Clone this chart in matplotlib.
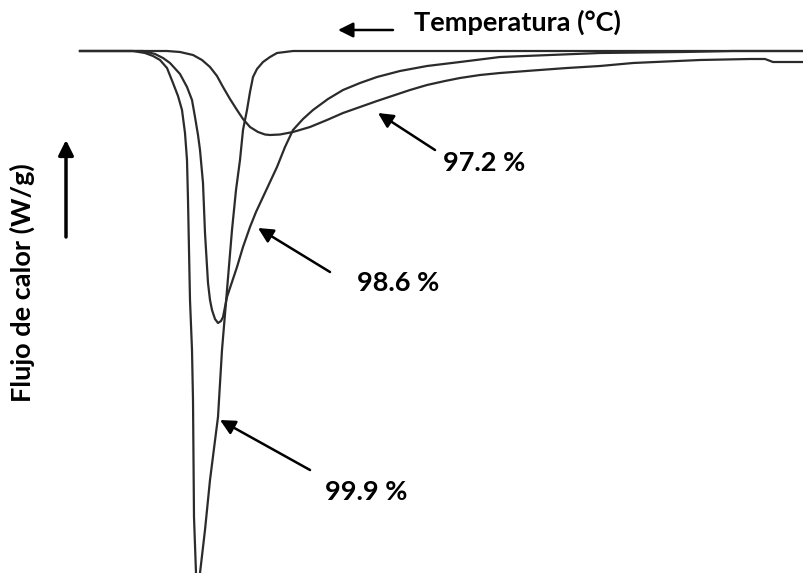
import numpy as np
import matplotlib.pyplot as plt

# DSC curves, x = temperature (arbitrary units), y = heat flow (arbitrary, baseline 0)
x_999 = [80, 133, 145, 153, 160, 167, 173, 178, 182, 185, 187, 188, 189, 190, 192, 193,
         194, 196, 197, 200, 205, 210, 218, 222, 227, 232, 236, 240, 243, 247, 250, 253,
         257, 263, 270, 277, 285, 293, 804]
y_999 = [0, 0, -2, -5, -9, -17, -32, -45, -59, -82, -109, -149, -199, -249, -299, -349,
         -466, -522, -541, -522, -479, -429, -366, -299, -239, -179, -139, -109, -79, -59,
         -41, -26, -18, -11, -6, -2, -1, 0, 0]

x_986 = [80, 143, 155, 163, 170, 180, 187, 192, 195, 198, 200, 203, 205, 208, 210, 212,
         215, 218, 221, 223, 227, 232, 237, 243, 250, 256, 263, 270, 277, 285, 293, 303,
         313, 328, 343, 360, 377, 400, 427, 460, 500, 550, 600, 683, 733, 804]
y_986 = [0, 0, -3, -7, -12, -23, -36, -49, -66, -84, -99, -132, -182, -232, -249, -259,
         -268, -272, -270, -266, -246, -231, -216, -196, -176, -161, -146, -131, -116, -96,
         -79, -68, -59, -48, -39, -32, -26, -20, -15, -11, -6, -4, -2, -1, 0, 0]

x_972 = [80, 167, 180, 193, 202, 210, 217, 223, 230, 237, 243, 250, 258, 265, 270, 280,
         293, 310, 327, 343, 360, 377, 395, 410, 427, 445, 460, 480, 500, 533, 567, 600,
         633, 700, 750, 765, 773, 804]
y_972 = [0, 0, -1, -4, -9, -16, -25, -36, -48, -59, -68, -76, -81, -83.5, -84, -83.5,
         -81, -76, -69, -62, -56, -50, -44, -39, -34, -30, -27, -24, -22, -19.5, -17, -15,
         -12, -9, -8, -8, -11, -11]

labels = ['97.2 %', '98.6 %', '99.9 %']

fig = plt.figure(figsize=(8.04, 5.73), dpi=100)
ax = fig.add_axes([0, 0, 1, 1])
ax.set_xlim(0, 804)
ax.set_ylim(51 - 573, 51)
ax.axis('off')

lc = '#2b2b2b'
ax.plot(x_999, y_999, color=lc, lw=1.6)
ax.plot(x_986, y_986, color=lc, lw=1.6)
ax.plot(x_972, y_972, color=lc, lw=1.6)

font = dict(family='Lato', weight='bold', size=19.5)
arr = dict(arrowstyle='-|>,head_length=0.9,head_width=0.45', color='black', lw=1.8,
           shrinkA=0, shrinkB=0)

def px(x, y):
    return (x, 51 - y)

ax.annotate('', xy=px(378, 113), xytext=px(435, 150), arrowprops=arr)
ax.text(*px(443, 163), labels[0], va='center', ha='left', **font)
ax.annotate('', xy=px(258, 228), xytext=px(330, 272), arrowprops=arr)
ax.text(*px(357, 283), labels[1], va='center', ha='left', **font)
ax.annotate('', xy=px(220, 420), xytext=px(310, 470), arrowprops=arr)
ax.text(*px(325, 492), labels[2], va='center', ha='left', **font)

ax.annotate('', xy=px(338, 30), xytext=px(393, 30), arrowprops=arr)
ax.text(*px(414, 22), 'Temperatura (°C)', va='center', ha='left', **font)

ax.annotate('', xy=px(66, 140), xytext=px(66, 237), arrowprops=dict(arr, lw=2.5))
ax.text(*px(22, 283), 'Flujo de calor (W/g)', va='center', ha='center', rotation=90, **font)

fig.savefig('out.png', dpi=100)
